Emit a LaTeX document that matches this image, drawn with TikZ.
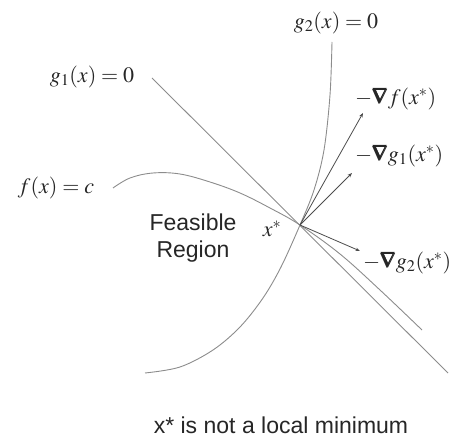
\documentclass[tikz,border=0pt]{standalone}
\usepackage{mathptmx}
\usepackage{amsmath,amsbsy}
\usepackage[no-math]{fontspec}
\setmainfont{Liberation Sans}
\usetikzlibrary{arrows.meta}
\tikzset{
  curveline/.style={draw=black!45, line width=0.9pt},
  gradarrow/.style={draw=black!70, line width=0.8pt, -{Stealth[length=4.5pt,width=3.5pt]}},
  mlabel/.style={inner sep=0pt, text=black!85, font=\fontsize{22}{26}\selectfont},
  tlabel/.style={inner sep=0pt, text=black!85, font=\fontsize{23}{27}\selectfont, align=center},
}
\newcommand{\bnab}{\pmb{\nabla}}
\begin{document}
\begin{tikzpicture}[x=1pt,y=-1pt]
\useasboundingbox (0,0) rectangle (468,438);
\coordinate (xs) at (300,225);
% constraint g1: straight line
\coordinate (g1a) at (152,78);
\coordinate (g1b) at (448,373);
\draw[curveline] (g1a) -- (g1b);
% f(x)=c curve
\draw[curveline] plot[smooth, tension=0.6] coordinates {(113,188) (130,178) (153,173) (180,174) (210,182) (240,193) (270,208) (300,225) (340,254) (380,290) (422,330)};
% g2 curve
\draw[curveline] plot[smooth, tension=0.55] coordinates {(332,42) (330,95) (324,150) (314,190) (300,225) (281,267) (263,298) (240,327) (213,350) (180,367) (145,373)};
% gradient arrows
\coordinate (tf) at (363,113);
\coordinate (tg1) at (352,173);
\coordinate (tg2) at (360,251);
\draw[gradarrow] (xs) -- (tf);
\draw[gradarrow] (xs) -- (tg1);
\draw[gradarrow] (xs) -- (tg2);
% labels
\node[mlabel] (lg2) at (336,23) {$g_2(x)=0$};
\node[mlabel] (lg1) at (92,77) {$g_1(x)=0$};
\node[mlabel] (lf) at (56,188) {$f(x)=c$};
\node[mlabel] (lxs) at (272,229) {$x^*$};
\node[mlabel, anchor=west] (lgf) at (355,99) {$-\bnab f(x^*)$};
\node[mlabel, anchor=west] (lgg1) at (355,156) {$-\bnab g_1(x^*)$};
\node[mlabel, anchor=west] (lgg2) at (363,263) {$-\bnab g_2(x^*)$};
\node[tlabel] (feas) at (193,238) {Feasible\\Region};
\node[tlabel] (cap) at (281,425) {x* is not a local minimum};
\end{tikzpicture}
\end{document}
